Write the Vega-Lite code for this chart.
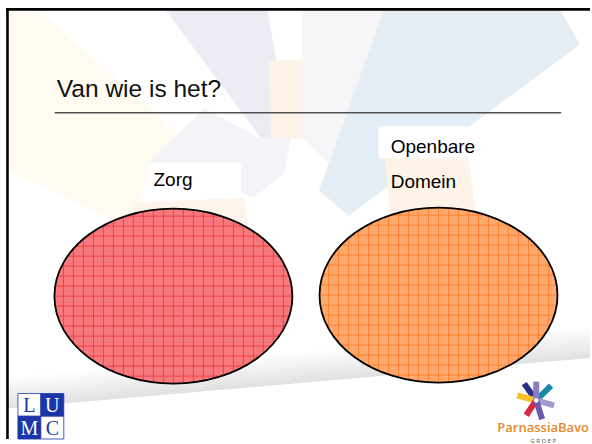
{
  "$schema": "https://vega.github.io/schema/vega-lite/v6.json",
  "width": 592,
  "height": 444,
  "autosize": {"type": "fit", "contains": "padding"},
  "padding": 0,
  "background": "white",
  "config": {"view": {"stroke": null}},
  "resolve": {"scale": {"color": "independent", "fill": "independent", "stroke": "independent", "size": "independent"}},
  "datasets": {
    "bgshapes": [
      {"shape": "yellow", "i": 1, "x": 8, "y": 12},
      {"shape": "yellow", "i": 2, "x": 40, "y": 12},
      {"shape": "yellow", "i": 3, "x": 195, "y": 150},
      {"shape": "yellow", "i": 4, "x": 150, "y": 175},
      {"shape": "yellow", "i": 5, "x": 130, "y": 230},
      {"shape": "yellow", "i": 6, "x": 8, "y": 172},
      {"shape": "lavender", "i": 1, "x": 166, "y": 10},
      {"shape": "lavender", "i": 2, "x": 268, "y": 10},
      {"shape": "lavender", "i": 3, "x": 292, "y": 140},
      {"shape": "lavender", "i": 4, "x": 262, "y": 140},
      {"shape": "lightgray", "i": 1, "x": 205, "y": 110},
      {"shape": "lightgray", "i": 2, "x": 262, "y": 140},
      {"shape": "lightgray", "i": 3, "x": 292, "y": 140},
      {"shape": "lightgray", "i": 4, "x": 285, "y": 175},
      {"shape": "lightgray", "i": 5, "x": 255, "y": 200},
      {"shape": "lightgray", "i": 6, "x": 150, "y": 163},
      {"shape": "gray", "i": 1, "x": 303, "y": 10},
      {"shape": "gray", "i": 2, "x": 385, "y": 10},
      {"shape": "gray", "i": 3, "x": 330, "y": 165},
      {"shape": "gray", "i": 4, "x": 303, "y": 140},
      {"shape": "blue", "i": 1, "x": 385, "y": 10},
      {"shape": "blue", "i": 2, "x": 562, "y": 10},
      {"shape": "blue", "i": 3, "x": 582, "y": 45},
      {"shape": "blue", "i": 4, "x": 350, "y": 218},
      {"shape": "blue", "i": 5, "x": 320, "y": 193},
      {"shape": "peach", "i": 1, "x": 270, "y": 62},
      {"shape": "peach", "i": 2, "x": 303, "y": 60},
      {"shape": "peach", "i": 3, "x": 303, "y": 140},
      {"shape": "peach", "i": 4, "x": 272, "y": 140},
      {"shape": "peach2", "i": 1, "x": 386, "y": 160},
      {"shape": "peach2", "i": 2, "x": 430, "y": 150},
      {"shape": "peach2", "i": 3, "x": 470, "y": 158},
      {"shape": "peach2", "i": 4, "x": 478, "y": 220},
      {"shape": "peach2", "i": 5, "x": 392, "y": 220},
      {"shape": "peach3", "i": 1, "x": 133, "y": 205},
      {"shape": "peach3", "i": 2, "x": 245, "y": 200},
      {"shape": "peach3", "i": 3, "x": 250, "y": 235},
      {"shape": "peach3", "i": 4, "x": 135, "y": 235}
    ],
    "band": [
      {"i": 1, "x": 8, "y": 381},
      {"i": 2, "x": 592, "y": 330},
      {"i": 3, "x": 592, "y": 362},
      {"i": 4, "x": 8, "y": 413}
    ],
    "whitebox": [
      {"x": 148, "x2": 242, "y": 165, "y2": 196},
      {"x": 380, "x2": 482, "y": 128, "y2": 160}
    ],
    "ellipses": [
      {"name": "Zorg", "x": 174, "y": 299.5},
      {"name": "Openbare Domein", "x": 440, "y": 298.5}
    ],
    "labels": [
      {"text": "Zorg", "x": 154, "y": 188},
      {"text": "Openbare", "x": 392, "y": 155},
      {"text": "Domein", "x": 392, "y": 190}
    ],
    "lumc": [
      {"letter": "L", "x": 18, "x2": 41, "y": 398, "y2": 421, "bg": "white"},
      {"letter": "U", "x": 41, "x2": 64, "y": 398, "y2": 421, "bg": "blue"},
      {"letter": "M", "x": 18, "x2": 41, "y": 421, "y2": 444, "bg": "blue"},
      {"letter": "C", "x": 41, "x2": 64, "y": 421, "y2": 444, "bg": "white"}
    ],
    "rays": [
      {"c": "navy", "x": 538, "y": 405, "x2": 526, "y2": 388},
      {"c": "teal", "x": 538, "y": 405, "x2": 553, "y2": 390},
      {"c": "yellow", "x": 538, "y": 405, "x2": 519, "y2": 400},
      {"c": "lilac", "x": 538, "y": 405, "x2": 556, "y2": 410},
      {"c": "red", "x": 538, "y": 405, "x2": 528, "y2": 420},
      {"c": "purple", "x": 538, "y": 405, "x2": 544, "y2": 424},
      {"c": "violet", "x": 538, "y": 405, "x2": 538, "y2": 386}
    ]
  },
  "layer": [
    {
      "data": {"name": "bgshapes"},
      "mark": {"type": "line", "filled": true, "strokeWidth": 0, "interpolate": "linear-closed"},
      "encoding": {
        "x": {"field": "x", "type": "quantitative", "scale": {"domain": [0, 592], "nice": false, "zero": false}, "axis": null},
        "y": {"field": "y", "type": "quantitative", "scale": {"domain": [0, 444], "nice": false, "zero": false, "reverse": true}, "axis": null},
        "order": {"field": "i"},
        "detail": {"field": "shape"},
        "color": {"field": "shape", "type": "nominal", "legend": null,
          "scale": {"domain": ["yellow", "lavender", "lightgray", "gray", "blue", "peach", "peach2", "peach3"], "range": ["#fffbf0", "#ececf4", "#f4f4f8", "#f6f6f9", "#e6eef5", "#fdf3e6", "#fdf3e6", "#fdf5ea"]}}
      }
    },
    {
      "data": {"name": "band"},
      "mark": {"type": "line", "filled": true, "strokeWidth": 0, "interpolate": "linear-closed",
        "fill": {"gradient": "linear", "x1": 0.5, "y1": 0.307, "x2": 0.672, "y2": 0.587,
          "stops": [{"offset": 0, "color": "#ffffff"}, {"offset": 0.5, "color": "#f0f0f0"}, {"offset": 1, "color": "#e0e0e0"}]}},
      "encoding": {
        "x": {"field": "x", "type": "quantitative"},
        "y": {"field": "y", "type": "quantitative"},
        "order": {"field": "i"}
      }
    },
    {
      "data": {"name": "whitebox"},
      "mark": {"type": "rect", "fill": "white"},
      "encoding": {
        "x": {"field": "x", "type": "quantitative"},
        "x2": {"field": "x2"},
        "y": {"field": "y", "type": "quantitative"},
        "y2": {"field": "y2"}
      }
    },
    {
      "data": {"values": [{"t": "Van wie is het?", "x": 57, "y": 98}]},
      "mark": {"type": "text", "align": "left", "baseline": "alphabetic", "font": "Liberation Sans", "fontSize": 24.5, "color": "#111111"},
      "encoding": {
        "x": {"field": "x", "type": "quantitative"},
        "y": {"field": "y", "type": "quantitative"},
        "text": {"field": "t"}
      }
    },
    {
      "data": {"values": [{"x": 55, "x2": 563, "y": 114}]},
      "mark": {"type": "rule", "color": "#505050", "strokeWidth": 1.4},
      "encoding": {
        "x": {"field": "x", "type": "quantitative"},
        "x2": {"field": "x2"},
        "y": {"field": "y", "type": "quantitative"}
      }
    },
    {
      "data": {"name": "ellipses"},
      "mark": {"type": "point", "shape": "M -1 0 A 1 0.735 0 1 1 1 0 A 1 0.735 0 1 1 -1 0 Z", "size": 56644, "filled": true, "opacity": 1, "strokeWidth": 0},
      "encoding": {
        "x": {"field": "x", "type": "quantitative"},
        "y": {"field": "y", "type": "quantitative"},
        "fill": {"field": "name", "type": "nominal", "legend": null, "scale": {"domain": ["Zorg", "Openbare Domein"], "range": ["#f7797d", "#fda86c"]}}
      }
    },
    {
      "data": {"name": "ellipses"},
      "mark": {"type": "point", "shape": "M0 -0.735L0 0.735M0.084 -0.7324L0.084 0.7324M-0.084 -0.7324L-0.084 0.7324M0.168 -0.7246L0.168 0.7246M-0.168 -0.7246L-0.168 0.7246M0.252 -0.7113L0.252 0.7113M-0.252 -0.7113L-0.252 0.7113M0.336 -0.6923L0.336 0.6923M-0.336 -0.6923L-0.336 0.6923M0.42 -0.667L0.42 0.667M-0.42 -0.667L-0.42 0.667M0.504 -0.6348L0.504 0.6348M-0.504 -0.6348L-0.504 0.6348M0.588 -0.5945L0.588 0.5945M-0.588 -0.5945L-0.588 0.5945M0.672 -0.5443L0.672 0.5443M-0.672 -0.5443L-0.672 0.5443M0.756 -0.4811L0.756 0.4811M-0.756 -0.4811L-0.756 0.4811M0.84 -0.3988L0.84 0.3988M-0.84 -0.3988L-0.84 0.3988M0.924 -0.2811L0.924 0.2811M-0.924 -0.2811L-0.924 0.2811M-1 0L1 0M-0.9935 0.084L0.9935 0.084M-0.9935 -0.084L0.9935 -0.084M-0.9735 0.168L0.9735 0.168M-0.9735 -0.168L0.9735 -0.168M-0.9394 0.252L0.9394 0.252M-0.9394 -0.252L0.9394 -0.252M-0.8894 0.336L0.8894 0.336M-0.8894 -0.336L0.8894 -0.336M-0.8207 0.42L0.8207 0.42M-0.8207 -0.42L0.8207 -0.42M-0.7279 0.504L0.7279 0.504M-0.7279 -0.504L0.7279 -0.504M-0.6 0.588L0.6 0.588M-0.6 -0.588L0.6 -0.588M-0.4051 0.672L0.4051 0.672M-0.4051 -0.672L0.4051 -0.672", "size": 56644, "filled": false, "opacity": 0.85, "strokeWidth": 0.8},
      "encoding": {
        "x": {"field": "x", "type": "quantitative"},
        "y": {"field": "y", "type": "quantitative"},
        "stroke": {"field": "name", "type": "nominal", "legend": null, "scale": {"domain": ["Zorg", "Openbare Domein"], "range": ["#f02a30", "#ff7418"]}}
      }
    },
    {
      "data": {"name": "ellipses"},
      "mark": {"type": "point", "shape": "M -1 0 A 1 0.735 0 1 1 1 0 A 1 0.735 0 1 1 -1 0 Z", "size": 56644, "filled": false, "opacity": 1, "color": "black", "strokeWidth": 1.8},
      "encoding": {
        "x": {"field": "x", "type": "quantitative"},
        "y": {"field": "y", "type": "quantitative"}
      }
    },
    {
      "data": {"name": "labels"},
      "mark": {"type": "text", "align": "left", "baseline": "alphabetic", "font": "Liberation Sans", "fontSize": 19, "color": "black"},
      "encoding": {
        "x": {"field": "x", "type": "quantitative"},
        "y": {"field": "y", "type": "quantitative"},
        "text": {"field": "text"}
      }
    },
    {
      "data": {"name": "lumc"},
      "mark": {"type": "rect", "stroke": "#1a35a8", "strokeWidth": 0.8},
      "encoding": {
        "x": {"field": "x", "type": "quantitative"},
        "x2": {"field": "x2"},
        "y": {"field": "y", "type": "quantitative"},
        "y2": {"field": "y2"},
        "fill": {"field": "bg", "type": "nominal", "legend": null, "scale": {"domain": ["white", "blue"], "range": ["#ffffff", "#1a35a8"]}}
      }
    },
    {
      "data": {"name": "lumc"},
      "transform": [{"calculate": "(datum.x + datum.x2) / 2", "as": "cx"}, {"calculate": "(datum.y + datum.y2) / 2", "as": "cy"}],
      "mark": {"type": "text", "align": "center", "baseline": "middle", "font": "Liberation Serif", "fontSize": 20, "dy": 1},
      "encoding": {
        "x": {"field": "cx", "type": "quantitative"},
        "y": {"field": "cy", "type": "quantitative"},
        "text": {"field": "letter"},
        "color": {"field": "bg", "type": "nominal", "legend": null, "scale": {"domain": ["white", "blue"], "range": ["#1a35a8", "#ffffff"]}}
      }
    },
    {
      "data": {"name": "rays"},
      "mark": {"type": "rule", "strokeWidth": 6, "strokeCap": "butt"},
      "encoding": {
        "x": {"field": "x", "type": "quantitative"},
        "y": {"field": "y", "type": "quantitative"},
        "x2": {"field": "x2"},
        "y2": {"field": "y2"},
        "color": {"field": "c", "type": "nominal", "legend": null, "scale": {"domain": ["navy", "teal", "yellow", "lilac", "red", "purple", "violet"], "range": ["#2b2f8c", "#1a8aa8", "#f5c02a", "#a69ad0", "#d8283c", "#6a5aa8", "#8c7cc0"]}}
      }
    },
    {
      "data": {"values": [{"x": 538, "y": 405}]},
      "mark": {"type": "point", "shape": "circle", "filled": true, "color": "white", "size": 20, "opacity": 1},
      "encoding": {
        "x": {"field": "x", "type": "quantitative"},
        "y": {"field": "y", "type": "quantitative"}
      }
    },
    {
      "data": {"values": [{"t": "ParnassiaBavo", "x": 545, "y": 437}]},
      "mark": {"type": "text", "align": "center", "baseline": "alphabetic", "font": "Open Sans", "fontWeight": 600, "fontSize": 13, "color": "#e8892a"},
      "encoding": {
        "x": {"field": "x", "type": "quantitative"},
        "y": {"field": "y", "type": "quantitative"},
        "text": {"field": "t"}
      }
    },
    {
      "data": {"values": [{"t": "G R O E P", "x": 545, "y": 448}]},
      "mark": {"type": "text", "align": "center", "baseline": "alphabetic", "font": "Open Sans", "fontSize": 6, "color": "#555555"},
      "encoding": {
        "x": {"field": "x", "type": "quantitative"},
        "y": {"field": "y", "type": "quantitative"},
        "text": {"field": "t"}
      }
    },
    {
      "data": {"values": [
        {"x": 7.5, "y": 8, "x2": 7.5, "y2": 444},
        {"x": 6, "y": 9.5, "x2": 592, "y2": 9.5}
      ]},
      "mark": {"type": "rule", "color": "black", "strokeWidth": 2.6},
      "encoding": {
        "x": {"field": "x", "type": "quantitative"},
        "y": {"field": "y", "type": "quantitative"},
        "x2": {"field": "x2"},
        "y2": {"field": "y2"}
      }
    }
  ]
}
